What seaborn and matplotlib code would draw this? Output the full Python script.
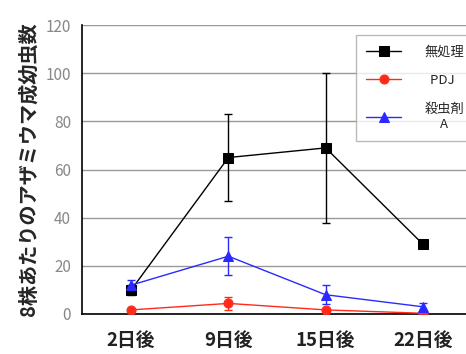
import matplotlib
matplotlib.use("Agg")
import matplotlib.pyplot as plt
import seaborn as sns
import pandas as pd

# data
days = ["2日後", "9日後", "15日後", "22日後"]
untreated = [10, 65, 69, 29]
untreated_err = [2, 18, 31, 0]
pdj = [1.7, 4.4, 1.7, 0.3]
pdj_err = [0.5, 2.8, 0.8, 0.3]
insecticide = [12, 24, 8, 3]
insecticide_err = [2, 8, 4, 1.5]

series_names = ["無処理", "  PDJ  ", "殺虫剤\nA"]
colors = ["black", "#ff2a1a", "#2a2aff"]
markers = ["s", "o", "^"]

sns.set_style("white")
plt.rcParams["font.family"] = ["Noto Sans CJK JP", "DejaVu Sans"]

rows = []
for name, vals in zip(series_names, [untreated, pdj, insecticide]):
    for i, v in enumerate(vals):
        rows.append({"day": i, "series": name, "value": v})
df = pd.DataFrame(rows)

fig = plt.figure(figsize=(4.66, 3.54), dpi=100)
ax = fig.add_axes([0.176, 0.113, 0.824, 0.816])

for name, errs, c, m in zip(series_names, [untreated_err, pdj_err, insecticide_err], colors, markers):
    sub = df[df["series"] == name]
    ax.errorbar(sub["day"], sub["value"], yerr=errs, fmt="none", ecolor=c,
                elinewidth=1.0, capsize=3, capthick=1.0, zorder=2)
    sns.lineplot(data=sub, x="day", y="value", color=c, marker=m, markersize=6.5,
                 markeredgecolor=c, linewidth=1.0, label=name, ax=ax, zorder=3)

ax.set_xlim(-0.505, 3.443)
ax.set_ylim(0, 120)
ax.set_yticks(range(0, 121, 20))
ax.set_xticks(range(len(days)))
ax.set_xticklabels(days, fontsize=13.5, fontweight="bold", color="#222222")
ax.tick_params(axis="y", labelsize=11, labelcolor="#888888", length=0, pad=8)
ax.tick_params(axis="x", length=0, pad=12)
ax.yaxis.grid(True, color="#999999", linewidth=1.0)
ax.set_axisbelow(True)
ax.set_xlabel("")
ax.set_ylabel("8株あたりのアザミウマ成幼虫数", fontsize=14.5, fontweight="bold", labelpad=5)

for s in ["top", "right"]:
    ax.spines[s].set_visible(False)
ax.spines["left"].set_color("black")
ax.spines["bottom"].set_color("black")
ax.spines["left"].set_linewidth(1.2)
ax.spines["bottom"].set_linewidth(1.2)

leg = ax.legend(loc="upper right", bbox_to_anchor=(1.04, 0.99), fontsize=9.5,
                frameon=True, fancybox=False, edgecolor="#aaaaaa",
                handlelength=2.6, handletextpad=1.8, borderpad=0.8, labelspacing=1.2)
leg.get_frame().set_linewidth(1.0)
for t in leg.get_texts():
    t.set_multialignment("center")

fig.savefig("out.png", dpi=100)
